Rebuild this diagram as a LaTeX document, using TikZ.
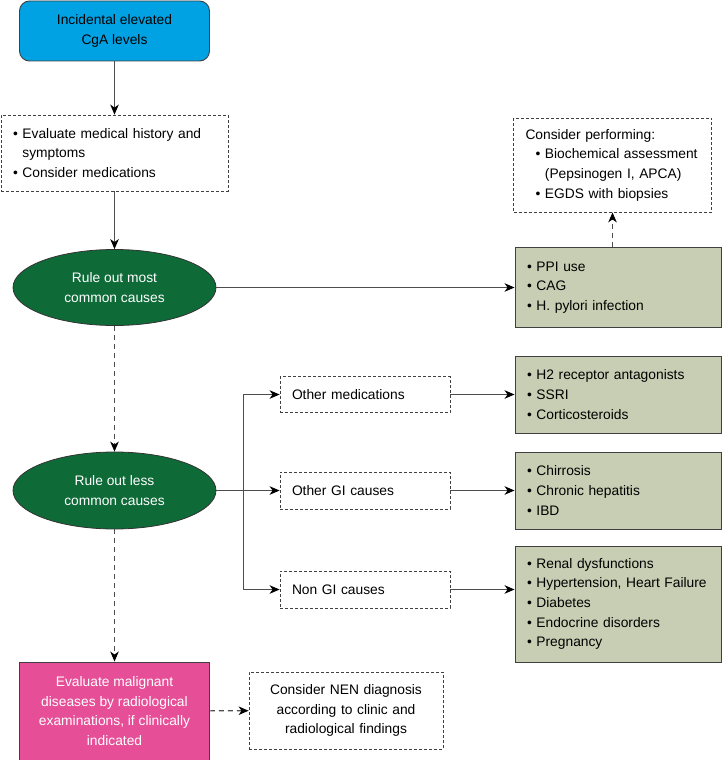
\documentclass[tikz,border=0pt]{standalone}
\usepackage{fontspec}
\setmainfont{Liberation Sans}
\usepackage{tikz}
\usetikzlibrary{arrows.meta,shapes.geometric}

\definecolor{cgablue}{HTML}{00A2E4}
\definecolor{rulegreen}{HTML}{0E6B38}
\definecolor{causegray}{HTML}{C8CEB3}
\definecolor{evalpink}{HTML}{E64F97}
\definecolor{linegray}{HTML}{4D4D4D}

\newcommand{\itm}[1]{\mbox{\textbullet\ #1}}
\newcommand{\cnt}[1]{\mbox{\hphantom{\textbullet\ }#1}}

\tikzset{
	startbox/.style={draw=black!75,line width=0.9pt,fill=cgablue,rounded corners=10pt,minimum width=190pt,minimum height=60pt,align=center},
	notebox/.style={draw=black!75,line width=0.8pt,dash pattern=on 3pt off 2pt,align=left,inner xsep=12pt,inner ysep=0pt},
	rulenode/.style={ellipse,draw=black!80,line width=0.8pt,fill=rulegreen,text=white,minimum width=203pt,minimum height=76pt,inner sep=0pt,align=center},
	causebox/.style={draw=black!75,line width=0.9pt,fill=causegray,align=left,inner xsep=12pt,inner ysep=0pt,text width=182pt},
	evalbox/.style={draw=black!75,line width=0.9pt,fill=evalpink,text=white,minimum width=190pt,minimum height=98pt,align=center},
	link/.style={->,draw=linegray,line width=1.1pt},
	dlink/.style={link,dash pattern=on 5pt off 4pt},
}

\begin{document}
\begin{tikzpicture}[x=1pt,y=-1pt,>={Stealth[length=10pt,width=8.5pt,inset=3pt,black]},font=\fontsize{13.8}{19.7}\selectfont]
	\useasboundingbox (0,0) rectangle (723,760);

	\node[startbox] (cga) at (114.5,31) {Incidental elevated\\CgA levels};
	\node[notebox,text width=203pt,minimum height=76pt] (hist) at (114.5,153) {\itm{Evaluate medical history and}\\\cnt{symptoms}\\\itm{Consider medications}};
	\node[rulenode] (common) at (114.5,287.5) {Rule out most\\common causes};
	\node[causebox,minimum height=80pt] (ppi) at (618,287.5) {\itm{PPI use}\\\itm{CAG}\\\itm{H. pylori infection}};
	\node[notebox,text width=174pt,minimum height=94pt] (perform) at (612.5,165) {Consider performing:\\\hspace*{10pt}\itm{Biochemical assessment}\\\hspace*{10pt}\cnt{(Pepsinogen I, APCA)}\\\hspace*{10pt}\itm{EGDS with biopsies}};
	\node[rulenode,minimum height=77pt] (less) at (114.5,490.5) {Rule out less\\common causes};

	\node[notebox,text width=146pt,minimum height=36pt] (meds) at (365,394.5) {Other medications};
	\node[notebox,text width=146pt,minimum height=37pt] (gi) at (365,490.5) {Other GI causes};
	\node[notebox,text width=146pt,minimum height=37pt] (nongi) at (365,589.5) {Non GI causes};

	\node[causebox,minimum height=77pt] (drugs) at (618,394.5) {\itm{H2 receptor antagonists}\\\itm{SSRI}\\\itm{Corticosteroids}};
	\node[causebox,minimum height=77pt] (liver) at (618,490.5) {\itm{Chirrosis}\\\itm{Chronic hepatitis}\\\itm{IBD}};
	\node[causebox,minimum height=116pt] (systemic) at (618,604) {\itm{Renal dysfunctions}\\\itm{Hypertension, Heart Failure}\\\itm{Diabetes}\\\itm{Endocrine disorders}\\\itm{Pregnancy}};

	\node[evalbox] (malign) at (114.5,711) {Evaluate malignant\\diseases by radiological\\examinations, if clinically\\indicated};
	\node[notebox,align=center,text width=170pt,minimum height=77pt] (nen) at (346,710.5) {Consider NEN diagnosis\\according to clinic and\\radiological findings};

	\coordinate (split) at (243.5,490.5);

	\draw[link] (cga) -- (hist);
	\draw[link] (hist) -- (common);
	\draw[link] (common) -- (ppi);
	\draw[dlink] (ppi.north -| perform.south) -- (perform);
	\draw[dlink] (common) -- (less);
	\draw[draw=linegray,line width=1.1pt] (less) -- (split);
	\draw[link] (split) |- (meds);
	\draw[link] (split) -- (gi);
	\draw[link] (split) |- (nongi);
	\draw[link] (meds) -- (drugs);
	\draw[link] (gi) -- (liver);
	\draw[link] (nongi) -- (nongi.east -| systemic.west);
	\draw[dlink] (less) -- (malign);
	\draw[dlink] (malign) -- (nen);
\end{tikzpicture}
\end{document}
